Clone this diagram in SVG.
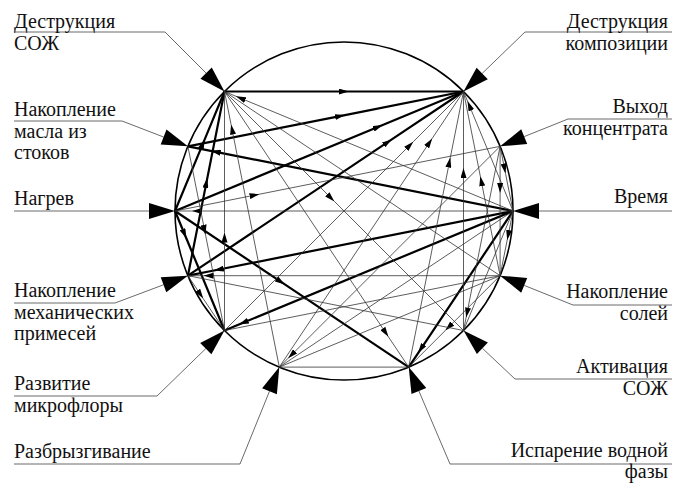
<svg xmlns="http://www.w3.org/2000/svg" width="685" height="489" viewBox="0 0 685 489">
<defs>
<marker id="ah" viewBox="0 0 10 6" refX="10" refY="3" markerWidth="10" markerHeight="6" orient="auto" markerUnits="userSpaceOnUse"><path d="M0,0 L10,3 L0,6 z" fill="#000"/></marker>
</defs>
<style>
text{font-size:20px;fill:#111}
.r{text-anchor:end}
.tk{stroke:#000;stroke-width:2.2;fill:none;marker-mid:url(#ah)}
.tn{stroke:#333;stroke-width:0.8;fill:none;marker-mid:url(#ah)}
.ld{stroke:#444;stroke-width:0.8;fill:none}
.tri{fill:#000}
</style>
<rect width="685" height="489" fill="#fff"/>
<circle cx="344" cy="211" r="169" fill="none" stroke="#000" stroke-width="1.6"/>
<g id="connectors">
<path class="tk" d="M224.5,91.5 L348.8,91.5 L463.5,91.5"/>
<path class="tk" d="M187.9,146.3 L345,115.1 L463.5,91.5"/>
<path class="tk" d="M175,211 L382.7,125 L463.5,91.5"/>
<path class="tk" d="M187.9,275.7 L391.8,139.4 L463.5,91.5"/>
<path class="tk" d="M513,211 L210.7,150.8 L187.9,146.3"/>
<path class="tk" d="M513,211 L213.9,270.5 L187.9,275.7"/>
<path class="tk" d="M513,211 L238.9,324.5 L224.5,330.5"/>
<path class="tk" d="M513,211 L418.1,353.1 L408.7,367.1"/>
<path class="tk" d="M175,211 L284.8,284.4 L408.7,367.1"/>
<path class="tk" d="M187.9,275.7 L207.3,178.1 L224.5,91.5"/>
<path class="tk" d="M175,211 L204.7,139.3 L224.5,91.5"/>
<path class="tk" d="M175,211 L186.4,238.5 L224.5,330.5"/>
<path class="tn" d="M513,211 L191.9,211 L175,211"/>
<path class="tn" d="M513,211 L236,96.3 L224.5,91.5"/>
<path class="tn" d="M224.5,91.5 L334.4,201.4 L463.5,330.5"/>
<path class="tn" d="M224.5,91.5 L388.4,336.8 L408.7,367.1"/>
<path class="tn" d="M224.5,91.5 L500.1,275.7"/>
<path class="tn" d="M279.3,367.1 L231.1,124.6 L224.5,91.5"/>
<path class="tn" d="M224.5,330.5 L224.5,232.5 L224.5,91.5"/>
<path class="tn" d="M224.5,330.5 L413.3,141.7 L463.5,91.5"/>
<path class="tn" d="M279.3,367.1 L432.2,138.4 L463.5,91.5"/>
<path class="tn" d="M408.7,367.1 L450.3,157.6 L463.5,91.5"/>
<path class="tn" d="M463.5,330.5 L463.5,168 L463.5,91.5"/>
<path class="tn" d="M500.1,275.7 L480.3,176.2 L463.5,91.5"/>
<path class="tn" d="M513,211 L467.5,101.1 L463.5,91.5"/>
<path class="tn" d="M500.1,146.3 L500.1,192.9 L500.1,275.7"/>
<path class="tn" d="M500.1,146.3 L505.5,173.5 L513,211"/>
<path class="tn" d="M513,211 L507.2,240 L500.1,275.7"/>
<path class="tn" d="M175,211 L259.5,194.2 L500.1,146.3"/>
<path class="tn" d="M500.1,275.7 L203.5,275.7 L187.9,275.7"/>
<path class="tn" d="M500.1,275.7 L445.3,330.5 L408.7,367.1"/>
<path class="tn" d="M500.1,146.3 L466.1,317.6 L463.5,330.5"/>
<path class="tn" d="M279.3,367.1 L408.7,367.1"/>
<path class="tn" d="M500.1,146.3 L288.1,358.3 L279.3,367.1"/>
<path class="tn" d="M500.1,275.7 L279.3,367.1"/>
<path class="tn" d="M500.1,275.7 L224.5,330.5"/>
<path class="tn" d="M187.9,146.3 L205.5,234.7 L224.5,330.5"/>
<path class="tn" d="M187.9,275.7 L203.2,298.6 L224.5,330.5"/>
<path class="tn" d="M279.3,367.1 L513,211"/>
<path class="tn" d="M463.5,330.5 L513,211"/>
<path class="tn" d="M187.9,275.7 L463.5,330.5"/>
</g>
<g font-family="'Liberation Serif', Tinos, 'Noto Serif', 'DejaVu Serif', 'Times New Roman', Times, serif">
<g id="n-destr-soj"><path class="ld" d="M14,32 L165,32 L206.1,73.1"/><polygon class="tri" points="224.5,91.5 200.44,78.76 211.76,67.44"/><text x="14" y="28">Деструкция</text><text x="14" y="50">СОЖ</text></g>
<g id="n-maslo"><path class="ld" d="M14,121 L122,121 L163.6,137"/><polygon class="tri" points="187.9,146.3 160.7,144.5 166.5,129.5"/><text x="14" y="116">Накопление</text><text x="14" y="138">масла из</text><text x="14" y="159">стоков</text></g>
<g id="n-nagrev"><path class="ld" d="M14,211 L149,211"/><polygon class="tri" points="175,211 149,203 149,219"/><text x="14" y="205">Нагрев</text></g>
<g id="n-mekh"><path class="ld" d="M14,303 L115,303 L163.5,284.8"/><polygon class="tri" points="187.9,275.7 166.3,292.3 160.7,277.3"/><text x="14" y="297">Накопление</text><text x="14" y="319">механических</text><text x="14" y="340">примесей</text></g>
<g id="n-mikro"><path class="ld" d="M14,396 L157,396 L205.8,348.6"/><polygon class="tri" points="224.5,330.5 211.4,354.3 200.2,342.9"/><text x="14" y="390">Развитие</text><text x="14" y="412">микрофлоры</text></g>
<g id="n-razbr"><path class="ld" d="M14,464 L240,464 L269.5,391.2"/><polygon class="tri" points="279.3,367.1 276.9,394.2 262.1,388.2"/><text x="14" y="458">Разбрызгивание</text></g>
<g id="n-ispar"><path class="ld" d="M672,464 L450,464 L418.9,391"/><polygon class="tri" points="408.7,367.1 426.3,387.9 411.5,394.1"/><text class="r" x="668" y="457">Испарение водной</text><text class="r" x="668" y="478">фазы</text></g>
<g id="n-aktiv"><path class="ld" d="M672,379 L515,379 L482.4,348.3"/><polygon class="tri" points="463.5,330.5 487.9,342.5 476.9,354.1"/><text class="r" x="668" y="373">Активация</text><text class="r" x="668" y="395">СОЖ</text></g>
<g id="n-soli"><path class="ld" d="M672,305 L573,305 L524.2,285.4"/><polygon class="tri" points="500.1,275.7 527.2,278 521.2,292.8"/><text class="r" x="668" y="298">Накопление</text><text class="r" x="668" y="320">солей</text></g>
<g id="n-vremya"><path class="ld" d="M672,211 L539,211"/><polygon class="tri" points="513,211 539,203 539,219"/><text class="r" x="668" y="203">Время</text></g>
<g id="n-vykhod"><path class="ld" d="M672,119 L568,119 L524.2,136.6"/><polygon class="tri" points="500.1,146.3 527.2,144 521.2,129.2"/><text class="r" x="668" y="113">Выход</text><text class="r" x="668" y="135">концентрата</text></g>
<g id="n-destr-komp"><path class="ld" d="M672,32 L525,32 L482.2,73.4"/><polygon class="tri" points="463.5,91.5 487.8,79.2 476.6,67.7"/><text class="r" x="668" y="28">Деструкция</text><text class="r" x="668" y="50">композиции</text></g>
</g>
</svg>
